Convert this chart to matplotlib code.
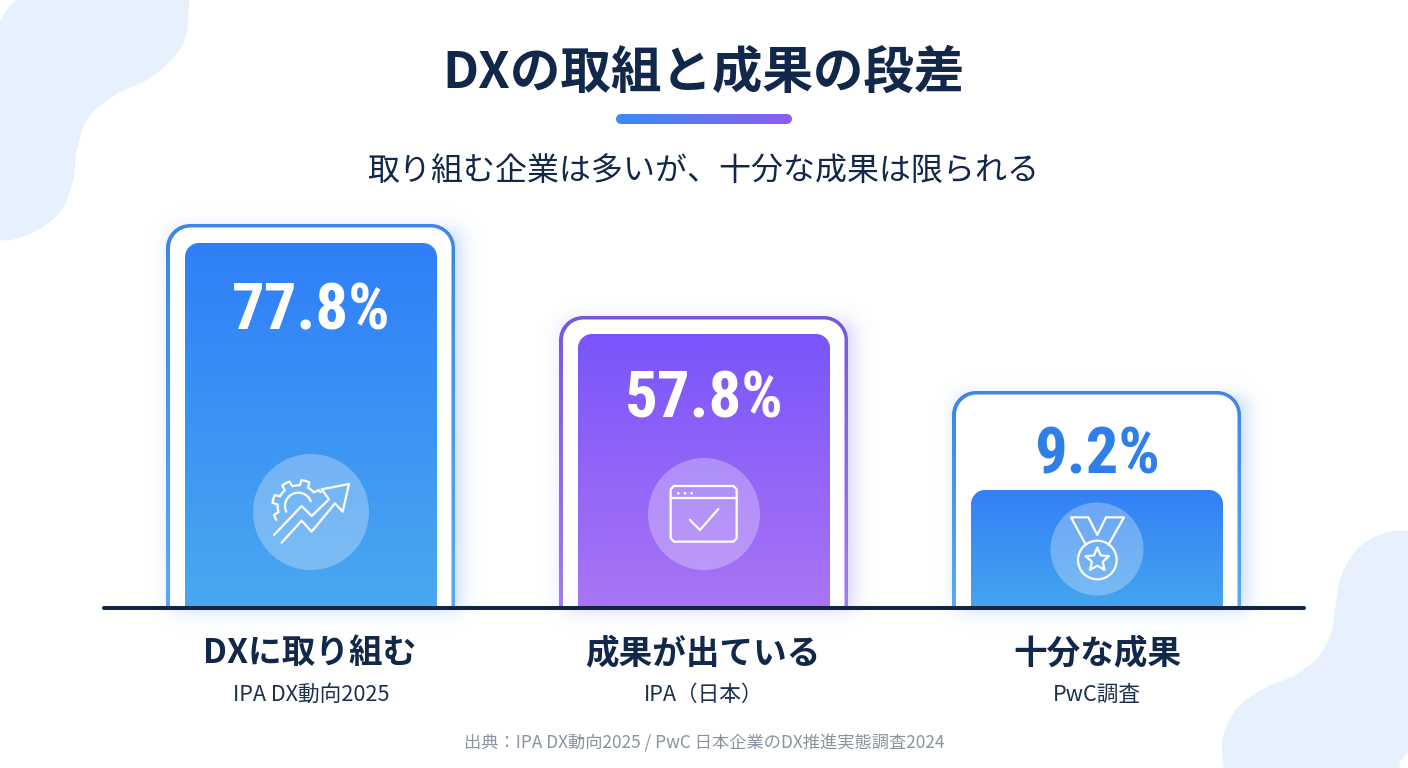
import numpy as np
import matplotlib
matplotlib.use("Agg")
import matplotlib.pyplot as plt
from matplotlib.colors import to_rgb
from matplotlib.patches import Circle, PathPatch
from matplotlib.path import Path

plt.rcParams['font.family'] = ['Noto Sans CJK JP', 'DejaVu Sans']

# ------ chart data ----------------
categories = ['DXに取り組む', '成果が出ている', '十分な成果']
sources = ['IPA DX動向2025', 'IPA（日本）', 'PwC調査']
values = [77.8, 57.8, 9.2]
# drawn heights as seen in the picture (not to scale with the values)
frame_heights = [384, 292, 217]
fill_heights = [365, 274, 118]

title = 'DXの取組と成果の段差'
subtitle = '取り組む企業は多いが、十分な成果は限られる'
footer = '出典：IPA DX動向2025 / PwC 日本企業のDX推進実態調査2024'

NAVY = '#12284a'
BLOB = '#e6f1fd'
BASE = 608

# frame top/bottom, fill top/bottom, shadow
palettes = [
    ('#3d85e6', '#5aaaf0', '#2f7ff8', '#4aa8f0', '#3c82f0'),
    ('#7658dc', '#a27cf0', '#7a55fb', '#a975f5', '#7c5cf6'),
    ('#3d85e6', '#5aaaf0', '#3380f6', '#45a5ef', '#3c82f0'),
]
value_colors = ['white', 'white', '#2f7fe8']
value_baselines = [330, 417, 473]

fig = plt.figure(figsize=(14.08, 7.68), dpi=100, facecolor='white')
ax = fig.add_axes([0, 0, 1, 1])
ax.set_axis_off()


def top_round(x0, x1, top, bottom, r):
    k = 0.45 * r
    verts = [(x0, bottom), (x0, top + r), (x0, top + k), (x0 + k, top), (x0 + r, top),
             (x1 - r, top), (x1 - k, top), (x1, top + k), (x1, top + r), (x1, bottom), (x0, bottom)]
    codes = [Path.MOVETO, Path.LINETO, Path.CURVE4, Path.CURVE4, Path.CURVE4,
             Path.LINETO, Path.CURVE4, Path.CURVE4, Path.CURVE4, Path.LINETO, Path.CLOSEPOLY]
    return Path(verts, codes)


def pill(x0, x1, top, bottom):
    r = (bottom - top) / 2
    k = 0.45 * r
    verts = [(x0 + r, top), (x1 - r, top), (x1 - k, top), (x1, top + k), (x1, top + r),
             (x1, bottom - k), (x1 - k, bottom), (x1 - r, bottom), (x0 + r, bottom),
             (x0 + k, bottom), (x0, bottom - k), (x0, top + r), (x0, top + k), (x0 + k, top), (x0 + r, top)]
    codes = [Path.MOVETO, Path.LINETO] + [Path.CURVE4] * 6 + [Path.LINETO] + [Path.CURVE4] * 6
    return Path(verts, codes)


def gradient_shape(path, c0, c1, z, horizontal=False):
    x0, y0 = path.vertices.min(axis=0)
    x1, y1 = path.vertices.max(axis=0)
    t = np.linspace(0, 1, 256)[:, None]
    grad = (1 - t) * np.array(to_rgb(c0)) + t * np.array(to_rgb(c1))
    grad = grad[None, :, :] if horizontal else grad[:, None, :]
    im = ax.imshow(grad, extent=(x0, x1, y1, y0), aspect='auto', zorder=z, interpolation='bilinear')
    im.set_clip_path(PathPatch(path, transform=ax.transData))


def soft_shadow(x0, x1, top, bottom, colour, alpha=0.30, w=11):
    xs = np.arange(x0 - 50, x1 + 50)
    ys = np.arange(top - 50, bottom + 50)
    ax_ = 0.5 * (np.tanh((xs - x0) / w) - np.tanh((xs - x1) / w))
    ay_ = 0.5 * (np.tanh((ys - top) / w) - np.tanh((ys - bottom) / w))
    img = np.zeros((len(ys), len(xs), 4))
    img[..., :3] = to_rgb(colour)
    img[..., 3] = alpha * np.outer(ay_, ax_)
    ax.imshow(img, extent=(xs[0], xs[-1], ys[-1], ys[0]), aspect='auto', zorder=1)


def smooth_blob(points):
    # closed catmull-rom outline
    p = np.array(points, dtype=float)
    n = len(p)
    verts = [p[0]]
    codes = [Path.MOVETO]
    for i in range(n):
        p0, p1, p2, p3 = p[i - 1], p[i], p[(i + 1) % n], p[(i + 2) % n]
        verts += [p1 + (p2 - p0) / 6, p2 - (p3 - p1) / 6, p2]
        codes += [Path.CURVE4] * 3
    return Path(verts, codes)


# background blobs
blob_tl = [(175, -25), (188, 20), (178, 52), (150, 78), (115, 95), (88, 118), (77, 150), (73, 180),
           (60, 212), (30, 234), (-5, 238), (-30, 200), (-30, 100), (-12, 45), (2, 18), (18, -1), (60, -15)]
blob_br = [(1410, 532), (1385, 533), (1358, 548), (1341, 577), (1336, 603), (1331, 633), (1318, 657),
           (1295, 675), (1265, 688), (1238, 707), (1224, 733), (1222, 753), (1226, 775), (1240, 800),
           (1385, 780), (1400, 762), (1412, 745), (1440, 700), (1440, 550)]
ax.add_patch(PathPatch(smooth_blob(blob_tl), fc=BLOB, ec='none', zorder=0))
ax.add_patch(PathPatch(smooth_blob(blob_br), fc=BLOB, ec='none', zorder=0))

# bars
for i in range(len(values)):
    cx = 311 + 393 * i
    c_top, c_bot, f_top, f_bot, c_sh = palettes[i]
    top = BASE - frame_heights[i]
    soft_shadow(cx - 140, cx + 150, top + 6, BASE + 2, c_sh)
    gradient_shape(top_round(cx - 145, cx + 144, top, BASE, 24), c_top, c_bot, 2)
    ax.add_patch(PathPatch(top_round(cx - 141, cx + 140.5, top + 3.5, BASE, 20.5), fc='white', ec='none', zorder=3))
    gradient_shape(top_round(cx - 126, cx + 126, BASE - fill_heights[i], BASE, 14), f_top, f_bot, 4)
    ax.text(cx, value_baselines[i], f'{values[i]}%', color=value_colors[i], ha='center', va='baseline',
            family='Roboto Condensed', weight='bold', fontsize=46.6, zorder=8)
    ax.text(cx - (1 if i < 2 else 0), 663, categories[i], color=NAVY, ha='center', va='baseline',
            weight='bold', fontsize=24.2, zorder=8)
    ax.text(cx, 701, sources[i], color='#1e3050', ha='center', va='baseline', fontsize=15.6, zorder=8)

# icon discs
for c, r in [((311, 512), 58), ((704, 514), 56), ((1097, 549), 46.5)]:
    ax.add_patch(Circle(c, r, fc='white', ec='none', alpha=0.28, zorder=5))


def zline(pts, ox, oy, lw=1.6, close=False):
    p = np.array(pts, dtype=float) / 3 + [ox, oy]
    if close:
        p = np.vstack([p, p[0]])
    ax.plot(p[:, 0], p[:, 1], color='white', lw=lw, solid_joinstyle='round', solid_capstyle='round', zorder=6)


# gear + arrow icon
ox, oy = 150, 210
zline([(372, 975), (455, 888), (485, 918), (537, 868), (515, 838), (597, 822), (578, 905), (555, 880),
       (485, 965), (455, 932), (395, 998)], ox, oy)
gear_c = np.array([445, 888])
gear = []
for a in np.arange(212, 30, -3.0):
    tooth = ((a - 20) % 45) < 20
    r = 78 if tooth else 62
    gear.append(gear_c + r * np.array([np.cos(np.radians(a)), -np.sin(np.radians(a))]))
zline(gear, ox, oy)
arc = [gear_c + 40 * np.array([np.cos(np.radians(a)), -np.sin(np.radians(a))]) for a in np.arange(205, 15, -8.0)]
zline(arc, ox, oy)

# window + check icon
ox, oy = 550, 305
zline([(372, 543), (550, 543), (560, 553), (560, 700), (550, 710), (372, 710), (362, 700), (362, 553)], ox, oy, close=True)
zline([(362, 580), (560, 580)], ox, oy)
zline([(420, 645), (450, 675), (505, 612)], ox, oy)
for zx in (385, 405, 425):
    ax.add_patch(Circle((ox + zx / 3, oy + 565 / 3), 1.3, fc='white', ec='none', zorder=6))

# medal icon
ox, oy = 940, 380
zline([(438, 495), (393, 412), (445, 412), (472, 465), (498, 412), (552, 412), (505, 495)], ox, oy)
ax.add_patch(Circle((ox + 472 / 3, oy + 540 / 3), 58 / 3, fc='none', ec='white', lw=1.6, zorder=6))
star = []
for k in range(10):
    r = 37 if k % 2 == 0 else 17
    a = np.radians(90 + 36 * k)
    star.append((472 + r * np.cos(a), 540 - r * np.sin(a)))
zline(star, ox, oy, close=True)

# baseline
ax.plot([104, 1304], [BASE, BASE], color='#0f2647', lw=2.9, solid_capstyle='round', zorder=7)

# header
ax.text(703.5, 88, title, color=NAVY, ha='center', va='baseline', weight='bold', fontsize=36.4, zorder=8)
gradient_shape(pill(616, 792, 114, 124), '#3b8bf8', '#8b5cf6', 8, horizontal=True)
ax.text(703, 180, subtitle, color=NAVY, ha='center', va='baseline', fontsize=23, zorder=8)
ax.text(704, 749, footer, color='#8a93a0', ha='center', va='baseline', fontsize=12.4, zorder=8)

ax.set_xlim(0, 1408)
ax.set_ylim(768, 0)

fig.savefig('out.png', dpi=100)
